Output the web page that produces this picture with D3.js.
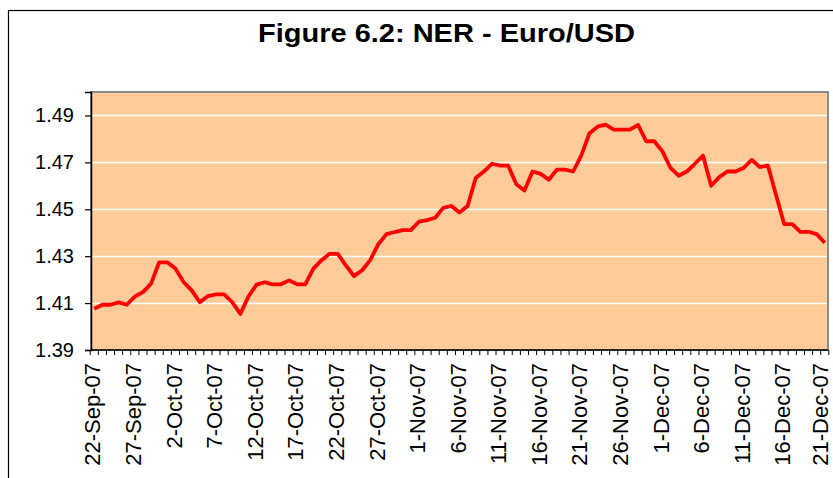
<!DOCTYPE html>
<html>
<head>
<meta charset="utf-8">
<script src="https://cdn.jsdelivr.net/npm/d3@7"></script>
<style>
  html, body { margin: 0; padding: 0; background: #ffffff; }
  svg { display: block; }
  text { font-family: Arial, "Liberation Sans", sans-serif; fill: #000; }
</style>
</head>
<body>
<svg id="chart" width="833" height="478"></svg>
<script>
// Daily Euro/USD nominal exchange rate, 22-Sep-07 .. 21-Dec-07
const startDate = "2007-09-22";
const endDate = "2007-12-21";
const rates = [
  1.4076, 1.4093, 1.4093, 1.4103, 1.4093, 1.4128, 1.4147, 1.4183, 1.4274, 1.4274,
  1.4247, 1.4190, 1.4154, 1.4104, 1.4130, 1.4137, 1.4137, 1.4104, 1.4054, 1.4128,
  1.4179, 1.4189, 1.4180, 1.4180, 1.4197, 1.4180, 1.4180, 1.4247, 1.4283, 1.4310,
  1.4310, 1.4261, 1.4215, 1.4240, 1.4283, 1.4351, 1.4394, 1.4403, 1.4411, 1.4411,
  1.4447, 1.4454, 1.4464, 1.4506, 1.4514, 1.4486, 1.4514, 1.4633, 1.4661, 1.4694,
  1.4686, 1.4686, 1.4607, 1.4580, 1.4661, 1.4651, 1.4626, 1.4669, 1.4669, 1.4661,
  1.4729, 1.4823, 1.4852, 1.4861, 1.4840, 1.4840, 1.4840, 1.4860, 1.4790, 1.4790,
  1.4747, 1.4676, 1.4643, 1.4661, 1.4694, 1.4729, 1.4600, 1.4637, 1.4661, 1.4661,
  1.4676, 1.4711, 1.4680, 1.4686, 1.4561, 1.4437, 1.4437, 1.4404, 1.4404, 1.4394,
  1.4357
];
const xTickLabels = [
  "22-Sep-07", "27-Sep-07", "2-Oct-07", "7-Oct-07", "12-Oct-07", "17-Oct-07",
  "22-Oct-07", "27-Oct-07", "1-Nov-07", "6-Nov-07", "11-Nov-07", "16-Nov-07",
  "21-Nov-07", "26-Nov-07", "1-Dec-07", "6-Dec-07", "11-Dec-07", "16-Dec-07",
  "21-Dec-07"
];
const yTicks = [1.39, 1.41, 1.43, 1.45, 1.47, 1.49];
const yDomain = [1.39, 1.50];
const titleText = "Figure 6.2: NER - Euro/USD";

const W = 833;
const parse = d3.utcParse("%Y-%m-%d");
const fmt = d3.utcFormat("%-d-%b-%y");
const days = d3.utcDay.range(parse(startDate), d3.utcDay.offset(parse(endDate), 1));
const data = days.map((d, i) => ({ date: d, key: fmt(d), value: rates[i] }));

const svg = d3.select("#chart");
const plot = { left: 91, right: 828, top: 92, bottom: 350 };

// outer chart frame
svg.append("rect")
  .attr("x", 8.5).attr("y", 10.5)
  .attr("width", 900).attr("height", 600)
  .attr("fill", "#fff").attr("stroke", "#000").attr("stroke-width", 1.2);

// title
svg.append("text")
  .attr("x", 446.5).attr("y", 42)
  .attr("text-anchor", "middle")
  .attr("font-size", 25).attr("font-weight", "bold")
  .attr("textLength", 377).attr("lengthAdjust", "spacingAndGlyphs")
  .text(titleText);

const x = d3.scalePoint()
  .domain(data.map(d => d.key))
  .range([plot.left, plot.right])
  .padding(0.4);
const step = x.step();

const y = d3.scaleLinear().domain(yDomain).range([plot.bottom, plot.top]);

// plot area
svg.append("rect")
  .attr("x", plot.left).attr("y", plot.top)
  .attr("width", plot.right - plot.left).attr("height", plot.bottom - plot.top)
  .attr("fill", "#FFCC99").attr("stroke", "#8a8a8a").attr("stroke-width", 2);

// horizontal gridlines
svg.append("g")
  .selectAll("line")
  .data(yTicks.filter(v => v > yDomain[0]))
  .join("line")
  .attr("x1", plot.left).attr("x2", plot.right - 1)
  .attr("y1", d => Math.round(y(d)) + 0.5).attr("y2", d => Math.round(y(d)) + 0.5)
  .attr("stroke", "#ffffff").attr("stroke-width", 1.5);

// y axis
const yAxis = d3.axisLeft(y)
  .tickValues(yTicks)
  .tickSize(6)
  .tickPadding(11)
  .tickFormat(d3.format(".2f"));
const gy = svg.append("g")
  .attr("transform", `translate(${plot.left},0)`)
  .call(yAxis);
gy.select(".domain").attr("stroke", "#000").attr("stroke-width", 1.5);
gy.selectAll(".tick line").attr("stroke", "#000").attr("stroke-width", 1.2);
gy.selectAll(".tick text")
  .attr("font-size", 20)
  .attr("font-family", "Arial, 'Liberation Sans', sans-serif")
  .attr("fill", "#000");

// x axis: a tick at every day boundary, a label every fifth day
const boundaries = data.map(d => x(d.key) - step / 2).concat([x(data[data.length - 1].key) + step / 2]);
const gx = svg.append("g");
gx.append("line")
  .attr("x1", plot.left).attr("x2", plot.right)
  .attr("y1", plot.bottom).attr("y2", plot.bottom)
  .attr("stroke", "#000").attr("stroke-width", 1.5);
gx.selectAll("line.tk")
  .data(boundaries)
  .join("line")
  .attr("class", "tk")
  .attr("x1", d => d).attr("x2", d => d)
  .attr("y1", plot.bottom).attr("y2", plot.bottom + 5)
  .attr("stroke", "#000").attr("stroke-width", 1);

// rotated labels, nudged so the last one stays inside the canvas
const labelSize = 22;
const labelled = data.filter(d => xTickLabels.includes(d.key));
gx.selectAll("text")
  .data(labelled)
  .join("text")
  .attr("transform", d => {
    const cx = Math.min(x(d.key), W - 0.5 - labelSize * 0.5);
    return `translate(${cx},${plot.bottom + 13}) rotate(-90)`;
  })
  .attr("text-anchor", "end")
  .attr("dy", "0.28em")
  .attr("font-size", labelSize)
  .text(d => d.key);

// series line
const line = d3.line()
  .x(d => x(d.key))
  .y(d => y(d.value));
svg.append("path")
  .datum(data)
  .attr("d", line)
  .attr("fill", "none")
  .attr("stroke", "#FF0000")
  .attr("stroke-width", 3.8)
  .attr("stroke-linejoin", "round");
</script>
</body>
</html>
